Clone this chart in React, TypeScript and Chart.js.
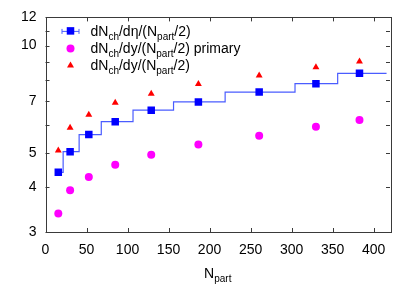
import React, { useEffect, useRef } from 'react';
import { Chart, registerables } from 'chart.js';
Chart.register(...registerables);

// ---- data ----
const npart = [15.6, 30.0, 52.8, 85.0, 128.9, 186.4, 260.5, 329.7, 382.8];
const dNchDeta = [4.41, 5.04, 5.63, 6.12, 6.59, 6.95, 7.41, 7.82, 8.36];
const dNdyPrimary = [3.38, 3.93, 4.28, 4.63, 4.94, 5.28, 5.59, 5.92, 6.18];
const dNdy = [5.08, 5.88, 6.4, 6.91, 7.33, 7.81, 8.24, 8.7, 9.03];
const stepEdges = [13, 21.5, 41, 68, 106.7, 156.1, 219, 304.2, 356.2, 415.8];
const yTickValues = [3, 4, 5, 6, 7, 8, 9, 10, 11, 12];
const yTickLabels = [3, 4, 5, 7, 10, 12];
const xTickValues = [0, 50, 100, 150, 200, 250, 300, 350, 400];

const FONT = '"Liberation Sans", Arial, Helvetica, sans-serif';
const AXIS_COLOR = '#3a3a3a';
const BLUE = '#0000ff';
const STEP_BLUE = '#4a5cff';
const MAGENTA = '#ff00ff';
const RED = '#ff0000';

type Part = { t: string; sub?: boolean };

function measureRich(ctx: CanvasRenderingContext2D, parts: Part[]) {
  let w = 0;
  for (const p of parts) {
    ctx.font = p.sub ? `10px ${FONT}` : `14px ${FONT}`;
    w += ctx.measureText(p.t).width;
  }
  return w;
}

function drawRich(ctx: CanvasRenderingContext2D, parts: Part[], x: number, y: number) {
  let cx = x;
  ctx.textAlign = 'left';
  ctx.textBaseline = 'alphabetic';
  ctx.fillStyle = '#000';
  for (const p of parts) {
    ctx.font = p.sub ? `10px ${FONT}` : `14px ${FONT}`;
    ctx.fillText(p.t, cx, p.sub ? y + 4 : y);
    cx += ctx.measureText(p.t).width;
  }
}

const legendRows: Part[][] = [
  [{ t: 'dN' }, { t: 'ch', sub: true }, { t: '/dη/(N' }, { t: 'part', sub: true }, { t: '/2)' }],
  [{ t: 'dN' }, { t: 'ch', sub: true }, { t: '/dy/(N' }, { t: 'part', sub: true }, { t: '/2) primary' }],
  [{ t: 'dN' }, { t: 'ch', sub: true }, { t: '/dy/(N' }, { t: 'part', sub: true }, { t: '/2)' }],
];

const decorPlugin = {
  id: 'decor',
  afterDraw(chart: any) {
    const ctx: CanvasRenderingContext2D = chart.ctx;
    const { left, right, top, bottom } = chart.chartArea;
    const xs = chart.scales.x;
    const ys = chart.scales.y;
    ctx.save();
    // frame
    ctx.strokeStyle = AXIS_COLOR;
    ctx.lineWidth = 1;
    ctx.strokeRect(Math.round(left) + 0.5, Math.round(top) + 0.5, Math.round(right - left), Math.round(bottom - top));
    // inward ticks
    const tl = 4;
    ctx.beginPath();
    for (const v of yTickValues) {
      const py = Math.round(ys.getPixelForValue(v)) + 0.5;
      ctx.moveTo(left, py);
      ctx.lineTo(left + tl, py);
      ctx.moveTo(right, py);
      ctx.lineTo(right - tl, py);
    }
    for (const v of xTickValues) {
      const px = Math.round(xs.getPixelForValue(v)) + 0.5;
      ctx.moveTo(px, bottom);
      ctx.lineTo(px, bottom - tl);
      ctx.moveTo(px, top);
      ctx.lineTo(px, top + tl);
    }
    ctx.stroke();

    // legend
    const mx = left + 25;
    const tx = left + 45;
    const rowsY = [top + 13.5, top + 31, top + 48];
    // row 1: errorbar + square
    ctx.strokeStyle = STEP_BLUE;
    ctx.lineWidth = 1;
    ctx.beginPath();
    ctx.moveTo(mx - 8.5, rowsY[0] + 0.5);
    ctx.lineTo(mx + 8.5, rowsY[0] + 0.5);
    ctx.moveTo(mx - 8.5, rowsY[0] - 2);
    ctx.lineTo(mx - 8.5, rowsY[0] + 3);
    ctx.moveTo(mx + 8.5, rowsY[0] - 2);
    ctx.lineTo(mx + 8.5, rowsY[0] + 3);
    ctx.stroke();
    ctx.fillStyle = BLUE;
    ctx.fillRect(mx - 3.75, rowsY[0] - 3.75, 7.5, 7.5);
    // row 2: circle
    ctx.fillStyle = MAGENTA;
    ctx.beginPath();
    ctx.arc(mx, rowsY[1], 4, 0, Math.PI * 2);
    ctx.fill();
    // row 3: triangle
    ctx.fillStyle = RED;
    ctx.beginPath();
    ctx.moveTo(mx, rowsY[2] - 4);
    ctx.lineTo(mx + 3.5, rowsY[2] + 2);
    ctx.lineTo(mx - 3.5, rowsY[2] + 2);
    ctx.closePath();
    ctx.fill();
    legendRows.forEach((parts, i) => drawRich(ctx, parts, tx, rowsY[i] + 5));

    // x title
    const title: Part[] = [{ t: 'N' }, { t: 'part', sub: true }];
    const w = measureRich(ctx, title);
    drawRich(ctx, title, (left + right) / 2 - w / 2, 278);
    ctx.restore();
  },
};

export default function App() {
  const ref = useRef<HTMLCanvasElement | null>(null);
  useEffect(() => {
    document.body.style.margin = '0';
    const canvas = ref.current!;
    const stepData = stepEdges.map((x, i) => ({ x, y: dNchDeta[Math.min(i, dNchDeta.length - 1)] }));
    const chart = new Chart(canvas, {
      type: 'scatter',
      data: {
        datasets: [
          {
            type: 'line',
            label: 'step',
            data: stepData,
            stepped: 'before',
            borderColor: STEP_BLUE,
            borderWidth: 1.2,
            pointRadius: 0,
            fill: false,
            order: 4,
          } as any,
          {
            label: 'dNch/deta',
            data: npart.map((x, i) => ({ x, y: dNchDeta[i] })),
            pointStyle: 'rect',
            pointRadius: 5.3,
            backgroundColor: BLUE,
            borderColor: BLUE,
            borderWidth: 0,
            order: 1,
          },
          {
            label: 'primary',
            data: npart.map((x, i) => ({ x, y: dNdyPrimary[i] })),
            pointStyle: 'circle',
            pointRadius: 4,
            backgroundColor: MAGENTA,
            borderColor: MAGENTA,
            borderWidth: 0,
            order: 2,
          },
          {
            label: 'dNdy',
            data: npart.map((x, i) => ({ x, y: dNdy[i] })),
            pointStyle: 'triangle',
            pointRadius: 4,
            backgroundColor: RED,
            borderColor: RED,
            borderWidth: 0,
            order: 3,
          },
        ],
      },
      options: {
        animation: false,
        responsive: false,
        devicePixelRatio: 1,
        layout: { padding: { left: 0, right: 25, top: 16, bottom: 0 } },
        plugins: { legend: { display: false }, tooltip: { enabled: false } },
        scales: {
          x: {
            type: 'linear',
            min: 0,
            max: 420,
            grid: { display: false, drawTicks: false },
            border: { display: false },
            afterBuildTicks: (s: any) => {
              s.ticks = xTickValues.map((v) => ({ value: v }));
            },
            afterFit: (s: any) => {
              s.height = 59;
            },
            ticks: {
              padding: 10,
              color: '#000',
              font: { family: FONT, size: 14 },
              maxRotation: 0,
              autoSkip: false,
            },
          },
          y: {
            type: 'logarithmic',
            min: 3,
            max: 12,
            grid: { display: false, drawTicks: false },
            border: { display: false },
            afterBuildTicks: (s: any) => {
              s.ticks = yTickValues.map((v) => ({ value: v }));
            },
            afterFit: (s: any) => {
              s.width = 45.5;
            },
            ticks: {
              padding: 9,
              color: '#000',
              font: { family: FONT, size: 14 },
              autoSkip: false,
              callback: (v: any) => (yTickLabels.includes(Number(v)) ? String(v) : ''),
            },
          },
        },
      },
      plugins: [decorPlugin],
    });
    return () => chart.destroy();
  }, []);
  return (
    <div style={{ position: 'absolute', left: 0, top: 0, width: 415, height: 291, background: '#fff' }}>
      <canvas ref={ref} width={415} height={291} />
    </div>
  );
}
